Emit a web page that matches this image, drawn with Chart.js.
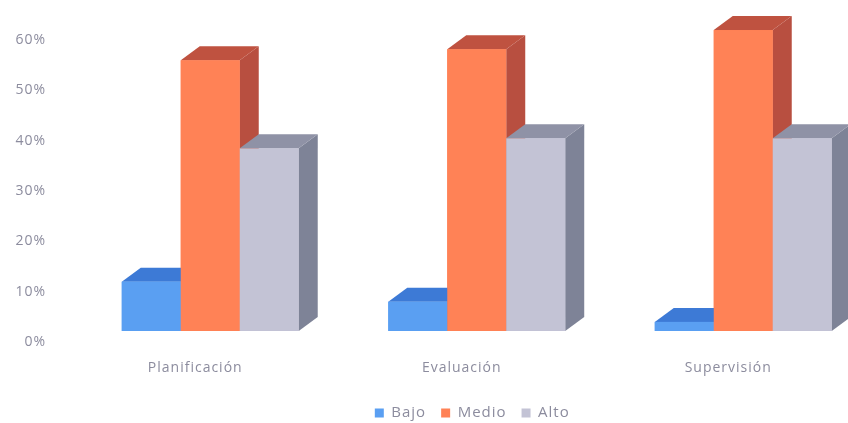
<!DOCTYPE html>
<html>
<head>
<meta charset="utf-8">
<script src="https://cdn.jsdelivr.net/npm/chart.js@4"></script>
<style>
html,body{margin:0;padding:0;background:#fff;overflow:hidden;width:848px;height:423px}
canvas{display:block}
</style>
</head>
<body>
<canvas id="c" width="944" height="440"></canvas>
<script>
const categories = ["Planificación", "Evaluación", "Supervisión"];
const bajo = [12, 8, 4];
const medio = [56, 58.2, 62];
const alto = [38.5, 40.5, 40.5];
const axisMax = 66;
const barFloor = 2.2;
const TEXT = "#8c8c9e";
const faces = {
  Bajo:  {front:"#5a9ff2", top:"#3d7ad6", side:"#3d7ad6"},
  Medio: {front:"#ff8256", top:"#bf5240", side:"#b84f40"},
  Alto:  {front:"#c3c3d5", top:"#8f92a6", side:"#7e8397"}
};
const DX = 19, DY = 14;
const LEGEND_SHIFT = 34;

const bars3d = {
  id: "bars3d",
  beforeUpdate(chart){ chart.ctx.letterSpacing = "1px"; },
  afterLayout(chart){
    chart.legend.left += LEGEND_SHIFT;
    chart.legend.right += LEGEND_SHIFT;
  },
  afterDatasetsDraw(chart){
    const ctx = chart.ctx;
    chart.data.datasets.forEach((ds, i) => {
      const f = faces[ds.label];
      chart.getDatasetMeta(i).data.forEach(b => {
        const l = b.x - b.width/2, r = b.x + b.width/2, t = b.y, g = b.base;
        ctx.fillStyle = f.side;
        ctx.beginPath();
        ctx.moveTo(r,t); ctx.lineTo(r+DX,t-DY); ctx.lineTo(r+DX,g-DY); ctx.lineTo(r,g);
        ctx.closePath(); ctx.fill();
        ctx.fillStyle = f.top;
        ctx.beginPath();
        ctx.moveTo(l,t); ctx.lineTo(l+DX,t-DY); ctx.lineTo(r+DX,t-DY); ctx.lineTo(r,t);
        ctx.closePath(); ctx.fill();
        ctx.fillStyle = f.front;
        ctx.fillRect(l,t,r-l,g-t);
      });
    });
  }
};

new Chart(document.getElementById("c"), {
  type: "bar",
  data: {
    labels: categories,
    datasets: [
      {label:"Bajo", data:bajo, backgroundColor:faces.Bajo.front, base:barFloor},
      {label:"Medio", data:medio, backgroundColor:faces.Medio.front, base:barFloor},
      {label:"Alto", data:alto, backgroundColor:faces.Alto.front, base:barFloor}
    ]
  },
  options: {
    responsive:false,
    animation:false,
    barPercentage:1,
    categoryPercentage:0.664,
    layout:{padding:{top:10,right:67.5,left:0,bottom:9.5}},
    plugins:{
      tooltip:{enabled:false},
      legend:{
        position:"bottom",
        labels:{boxWidth:9,boxHeight:9,padding:15,color:TEXT,font:{family:"'Open Sans'",size:15}}
      }
    },
    scales:{
      x:{
        grid:{display:false},border:{display:false},
        afterFit(s){ s.height = 48.5; },
        ticks:{color:TEXT,padding:10,labelOffset:-15,maxRotation:0,font:{family:"'Open Sans'",size:14}}
      },
      y:{
        min:0,max:axisMax,
        grid:{display:true,drawOnChartArea:false,drawTicks:true,tickLength:31,tickColor:"rgba(0,0,0,0)"},
        border:{display:false},
        afterFit(s){ s.width = 77; },
        ticks:{stepSize:10,color:TEXT,padding:0,callback:v=>v<=60?v+"%":"",font:{family:"'Open Sans'",size:14}}
      }
    }
  },
  plugins:[bars3d]
});
</script>
</body>
</html>
